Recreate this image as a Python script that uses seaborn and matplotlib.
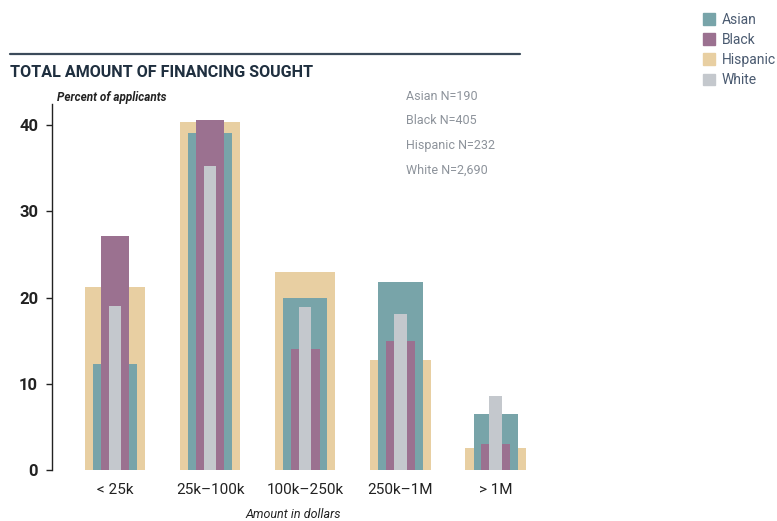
import numpy as np
import pandas as pd
import matplotlib
matplotlib.use("Agg")
import matplotlib.pyplot as plt
import matplotlib.patches as mpatches
import seaborn as sns

# values
categories = ["< 25k", "25k\u2013100k", "100k\u2013250k", "250k\u20131M", "> 1M"]
asian = [12.3, 39.1, 20.0, 21.8, 6.5]
black = [27.2, 40.6, 14.0, 15.0, 3.0]
hispanic = [21.2, 40.4, 23.0, 12.7, 2.6]
white = [19.0, 35.3, 18.9, 18.1, 8.6]
sample_sizes = ["Asian N=190", "Black N=405", "Hispanic N=232", "White N=2,690"]

colors = {"Asian": "#78a4a9", "Black": "#9b7190", "Hispanic": "#e8cfa2", "White": "#c4c8cd"}
# widest at the back, narrowest on top
layers = [("Hispanic", hispanic, 0.635), ("Asian", asian, 0.465),
          ("Black", black, 0.30), ("White", white, 0.13)]

sns.set_style("white")
plt.rcParams["font.family"] = ["Roboto", "DejaVu Sans"]

fig = plt.figure(figsize=(7.77, 5.21), dpi=100)
ax = fig.add_axes([0.0669, 0.098, 0.62, 0.703])

for name, vals, w in layers:
    df = pd.DataFrame({"cat": categories, "val": vals})
    sns.barplot(data=df, x="cat", y="val", color=colors[name], width=w,
                saturation=1, ax=ax, order=categories, linewidth=0, edgecolor="none")

ax.set_xlim(-0.66, 4.4)
ax.set_ylim(0, 42.5)
ax.set_yticks([0, 10, 20, 30, 40])
ax.set_xlabel("Amount in dollars", fontsize=9, style="italic", color="#222222", labelpad=8)
ax.set_ylabel("")
for s in ["top", "right", "bottom"]:
    ax.spines[s].set_visible(False)
ax.spines["left"].set_color("#222222")
ax.spines["left"].set_linewidth(1.0)
ax.tick_params(axis="y", left=True, length=4, width=1, color="#222222",
               labelsize=12, labelcolor="#222222", pad=6)
ax.tick_params(axis="x", bottom=False, labelsize=11, labelcolor="#222222", pad=6)
for lbl in ax.get_yticklabels():
    lbl.set_fontweight("bold")

# header rule and title
fig.add_artist(plt.Line2D([10 / 777, 520 / 777], [1 - 54 / 521, 1 - 54 / 521],
                          color="#3b4a5a", lw=1.6))
fig.text(10 / 777, 1 - 72 / 521, "TOTAL AMOUNT OF FINANCING SOUGHT", fontsize=11.6,
         fontweight="bold", color="#1f2f3f", va="center")
fig.text(57 / 777, 1 - 97 / 521, "Percent of applicants", fontsize=8.5,
         style="italic", fontweight="bold", color="#222222", va="center")

for i, t in enumerate(sample_sizes):
    fig.text(406 / 777, 1 - (96 + i * 24.7) / 521, t, fontsize=9,
             color="#8d939b", va="center")

handles = [mpatches.Patch(color=colors[n], label=n) for n in ["Asian", "Black", "Hispanic", "White"]]
leg = fig.legend(handles=handles, loc="upper left", bbox_to_anchor=(697 / 777, 1 - 7 / 521),
                 frameon=False, fontsize=10, handlelength=0.9, handleheight=0.9,
                 handletextpad=0.5, labelspacing=0.45, borderaxespad=0)
for t in leg.get_texts():
    t.set_color("#4a5a70")

fig.savefig("out.png", dpi=100)
